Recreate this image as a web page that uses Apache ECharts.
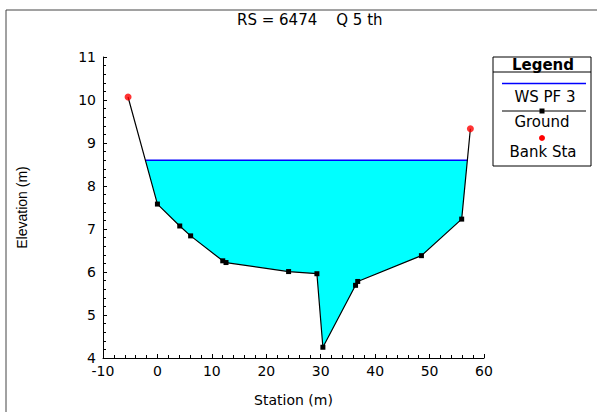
<!DOCTYPE html>
<html>
<head>
<meta charset="utf-8">
<script src="https://cdn.jsdelivr.net/npm/echarts@6/dist/echarts.min.js"></script>
<style>
html, body { margin: 0; padding: 0; background: #fff; }
#chart { width: 597px; height: 412px; }
</style>
</head>
<body>
<div id="chart"></div>
<script>
// cross section data
var station = [-5.4, 0.0, 4.1, 6.1, 12.0, 12.6, 24.1, 29.3, 30.4, 36.4, 36.8, 48.5, 55.9, 57.5];
var elevation = [10.07, 7.58, 7.07, 6.84, 6.26, 6.22, 6.01, 5.96, 4.25, 5.69, 5.78, 6.38, 7.23, 9.33];
var bankStation = [-5.4, 57.5];
var bankElevation = [10.07, 9.33];
var wsElevation = 8.6;

var xRange = [-10, 60];
var yRange = [4, 11];

// where the water surface meets the ground line
function crossAt(i, j, level) {
    var t = (level - elevation[i]) / (elevation[j] - elevation[i]);
    return station[i] + t * (station[j] - station[i]);
}
var waterPoly = [];
var wsLine = [];
(function () {
    var first = -1, last = -1;
    for (var i = 0; i < elevation.length; i++) {
        if (elevation[i] < wsElevation) {
            if (first < 0) first = i;
            last = i;
        }
    }
    var xl = crossAt(first - 1, first, wsElevation);
    var xr = crossAt(last, last + 1, wsElevation);
    waterPoly.push([xl, wsElevation]);
    for (var k = first; k <= last; k++) waterPoly.push([station[k], elevation[k]]);
    waterPoly.push([xr, wsElevation]);
    wsLine = [[xl, wsElevation], [xr, wsElevation]];
})();

var groundData = station.map(function (s, i) {
    var isBank = bankStation.indexOf(s) >= 0;
    return isBank ? { value: [s, elevation[i]], symbolSize: 0 } : [s, elevation[i]];
});
var bankData = bankStation.map(function (s, i) { return [s, bankElevation[i]]; });

var txt = 'DejaVu Sans';
var myChart = echarts.init(document.getElementById('chart'), null, { renderer: 'svg' });
var option = {
    backgroundColor: '#fff',
    animation: false,
    title: {
        text: 'RS = 6474    Q 5 th',
        left: 237,
        top: 12,
        padding: 0,
        textStyle: { fontFamily: txt, fontSize: 15, fontWeight: 'normal', color: '#000' }
    },
    grid: { left: 103, right: 113, top: 57, bottom: 52 },
    xAxis: {
        type: 'value',
        min: xRange[0],
        max: xRange[1],
        interval: 10,
        name: 'Station (m)',
        nameLocation: 'middle',
        nameGap: 35,
        nameTextStyle: { fontFamily: txt, fontSize: 14, color: '#000' },
        axisLine: { onZero: false, lineStyle: { color: '#000', width: 1 } },
        axisTick: { inside: true, length: 4, lineStyle: { color: '#000' } },
        minorTick: { show: true, splitNumber: 5, length: 3, lineStyle: { color: '#000' } },
        splitLine: { show: false },
        axisLabel: { fontFamily: txt, fontSize: 14, color: '#000', margin: 6 }
    },
    yAxis: {
        type: 'value',
        min: yRange[0],
        max: yRange[1],
        interval: 1,
        name: 'Elevation (m)',
        nameLocation: 'middle',
        nameGap: 74,
        nameRotate: 90,
        nameTextStyle: { fontFamily: 'Liberation Sans', fontSize: 14, color: '#000' },
        axisLine: { show: true, onZero: false, lineStyle: { color: '#000', width: 1 } },
        axisTick: { inside: true, length: 4, lineStyle: { color: '#000' } },
        minorTick: { show: true, splitNumber: 5, length: 3, lineStyle: { color: '#000' } },
        splitLine: { show: false },
        axisLabel: { fontFamily: txt, fontSize: 14, color: '#000', margin: 7 }
    },
    series: [{
        name: 'water',
        type: 'custom',
        clip: true,
        z: 1,
        data: [[xRange[0], yRange[0]]],
        renderItem: function (params, api) {
            var pts = waterPoly.map(function (p) { return api.coord(p); });
            return { type: 'polygon', shape: { points: pts }, style: { fill: '#00ffff', stroke: null } };
        }
    }, {
        name: 'WS PF 3',
        type: 'line',
        z: 2,
        data: wsLine,
        symbol: 'none',
        lineStyle: { color: '#0000ff', width: 1.5 }
    }, {
        name: 'Ground',
        type: 'line',
        z: 3,
        data: groundData,
        symbol: 'rect',
        symbolSize: 5,
        itemStyle: { color: '#000' },
        lineStyle: { color: '#000', width: 1.2 }
    }, {
        name: 'Bank Sta',
        type: 'scatter',
        z: 4,
        data: bankData,
        symbol: 'circle',
        symbolSize: 7,
        itemStyle: { color: '#ff0000' }
    }],
    graphic: [
        { type: 'rect', shape: { x: 6, y: 10, width: 600, height: 410 }, style: { fill: null, stroke: '#444', lineWidth: 1 }, silent: true },
        // legend box
        { type: 'rect', shape: { x: 493, y: 57, width: 98, height: 109 }, style: { fill: '#fff', stroke: '#000', lineWidth: 1 } },
        { type: 'line', shape: { x1: 493, y1: 72, x2: 591, y2: 72 }, style: { stroke: '#000', lineWidth: 1 } },
        { type: 'text', x: 543, y: 65, style: { text: 'Legend', fontFamily: txt, fontSize: 15, fontWeight: 'bold', fill: '#000', align: 'center', verticalAlign: 'middle' } },
        { type: 'line', shape: { x1: 502, y1: 83.5, x2: 586, y2: 83.5 }, style: { stroke: '#0000ff', lineWidth: 1.5 } },
        { type: 'text', x: 545, y: 97, style: { text: 'WS PF 3', fontFamily: txt, fontSize: 15, fill: '#000', align: 'center', verticalAlign: 'middle' } },
        { type: 'line', shape: { x1: 502, y1: 111, x2: 586, y2: 111 }, style: { stroke: '#000', lineWidth: 1 } },
        { type: 'rect', shape: { x: 539.5, y: 108.5, width: 5, height: 5 }, style: { fill: '#000' } },
        { type: 'text', x: 542, y: 122, style: { text: 'Ground', fontFamily: txt, fontSize: 15, fill: '#000', align: 'center', verticalAlign: 'middle' } },
        { type: 'circle', shape: { cx: 542, cy: 138, r: 3 }, style: { fill: '#ff0000' } },
        { type: 'text', x: 543, y: 152, style: { text: 'Bank Sta', fontFamily: txt, fontSize: 15, fill: '#000', align: 'center', verticalAlign: 'middle' } }
    ]
};
myChart.setOption(option);
</script>
</body>
</html>
